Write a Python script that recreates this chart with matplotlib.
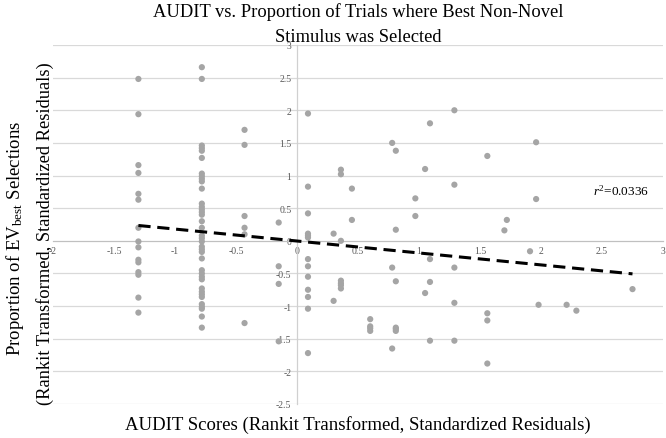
import matplotlib
matplotlib.use("Agg")
import matplotlib.pyplot as plt
import numpy as np

plt.rcParams['font.family'] = ['Liberation Serif', 'DejaVu Serif']
plt.rcParams['mathtext.fontset'] = 'custom'
plt.rcParams['mathtext.rm'] = 'Liberation Serif'
plt.rcParams['mathtext.it'] = 'Liberation Serif:italic'

# Columns of data (x value, list of y values)
x_col1 = -1.30
y_col1 = [2.48, 1.94, 1.16, 1.04, 0.72, 0.63, 0.20, -0.01, -0.10, -0.29, -0.33, -0.48, -0.52, -0.87, -1.10]
x_col2 = -0.78
y_col2 = [2.66, 2.48, 1.46, 1.42, 1.38, 1.27, 1.03, 0.99, 0.95, 0.91, 0.80, 0.57, 0.52, 0.48, 0.44, 0.40,
          0.30, 0.20, 0.08, 0.04, -0.01, -0.09, -0.13, -0.17, -0.27, -0.45, -0.50, -0.55, -0.59, -0.73,
          -0.78, -0.82, -0.86, -0.97, -1.01, -1.04, -1.16, -1.33]
x_col3 = -0.43
y_col3 = [1.70, 1.47, 0.38, 0.20, 0.10, -1.26]
x_col4 = -0.15
y_col4 = [0.28, -0.39, -0.66, -1.54]
x_col5 = 0.09
y_col5 = [1.95, 0.83, 0.42, 0.11, 0.08, 0.05, -0.28, -0.39, -0.55, -0.75, -0.86, -1.04, -1.72]

other_x = [0.30, 0.30, 0.36, 0.36, 0.36, 0.36, 0.36, 0.36, 0.36, 0.45, 0.45,
           0.60, 0.60, 0.60, 0.60, 0.78, 0.78, 0.78, 0.81, 0.81, 0.81, 0.81, 0.81, 0.81,
           0.97, 0.97, 1.05, 1.05, 1.09, 1.09, 1.09, 1.09, 1.29, 1.29, 1.29, 1.29, 1.29,
           1.56, 1.56, 1.56, 1.56, 1.70, 1.72, 1.91, 1.96, 1.96, 1.98, 2.21, 2.29, 2.75]
other_y = [0.11, -0.92, 1.09, 1.02, 0.00, -0.61, -0.65, -0.68, -0.73, 0.80, 0.32,
           -1.20, -1.31, -1.34, -1.38, 1.50, -0.41, -1.65, 1.38, 0.17, -0.62, -1.33, -1.35, -1.38,
           0.65, 0.38, 1.10, -0.80, 1.80, -0.28, -0.63, -1.53, 2.00, 0.86, -0.41, -0.95, -1.53,
           1.30, -1.11, -1.22, -1.88, 0.16, 0.32, -0.16, 1.51, 0.64, -0.98, -0.98, -1.07, -0.74]

# Linear trendline (r^2 = 0.0336)
trend_slope = -0.183
trend_intercept = -0.003
r_squared_label = "0.0336"

x_ticks = [-2, -1.5, -1, -0.5, 0, 0.5, 1, 1.5, 2, 2.5, 3]
y_ticks = [-2.5, -2, -1.5, -1, -0.5, 0, 0.5, 1, 1.5, 2, 2.5, 3]

xs = np.array([x_col1] * len(y_col1) + [x_col2] * len(y_col2) + [x_col3] * len(y_col3)
              + [x_col4] * len(y_col4) + [x_col5] * len(y_col5) + other_x)
ys = np.array(y_col1 + y_col2 + y_col3 + y_col4 + y_col5 + other_y)

fig = plt.figure(figsize=(6.66, 4.39), dpi=100)
ax = fig.add_axes([53 / 666, 34 / 439, 610 / 666, 359 / 439])

ax.set_xlim(-2, 3)
ax.set_ylim(-2.5, 3)

for yv in y_ticks:
    if yv != 0:
        ax.axhline(yv, color='#d9d9d9', lw=0.9, zorder=0)

ax.scatter(xs, ys, s=20, color='#a5a5a5', edgecolors='none', zorder=3)

xl = np.array([xs.min(), xs.max()])
ax.plot(xl, trend_slope * xl + trend_intercept, color='black', lw=2.2, ls=(0, (4, 2.2)), zorder=4)

for s in ['top', 'right']:
    ax.spines[s].set_visible(False)
ax.spines['left'].set_position(('data', 0))
ax.spines['bottom'].set_position(('data', 0))
ax.spines['left'].set_color('#d0d0d0')
ax.spines['bottom'].set_color('#c0c0c0')
ax.spines['left'].set_linewidth(0.9)
ax.spines['bottom'].set_linewidth(0.9)

ax.set_xticks(x_ticks)
ax.set_xticklabels([f"{t:g}" for t in x_ticks])
ax.set_yticks(y_ticks)
ax.set_yticklabels([f"{t:g}" for t in y_ticks])
ax.tick_params(axis='both', length=0, labelsize=7, labelcolor='#595959', pad=4)

ax.text(2.43, 0.77, r"$r^2$=" + r_squared_label, fontsize=9.5, va='center', ha='left', color='black')

fig.text(358 / 666, 1 - 12 / 439, "AUDIT vs. Proportion of Trials where Best Non-Novel",
         ha='center', va='center', fontsize=13.3)
fig.text(358 / 666, 1 - 38 / 439, "Stimulus was Selected", ha='center', va='center', fontsize=13.3)

fig.text(358 / 666, 1 - 425 / 439, "AUDIT Scores (Rankit Transformed, Standardized Residuals)",
         ha='center', va='center', fontsize=13.5)
fig.text(15 / 666, 1 - 238 / 439, r"Proportion of EV$_{\mathrm{best}}$ Selections",
         ha='center', va='center', rotation=90, fontsize=13.5)
fig.text(45 / 666, 1 - 234 / 439, "(Rankit Transformed, Standardized Residuals)",
         ha='center', va='center', rotation=90, fontsize=13.3)

fig.savefig("out.png", dpi=100)
